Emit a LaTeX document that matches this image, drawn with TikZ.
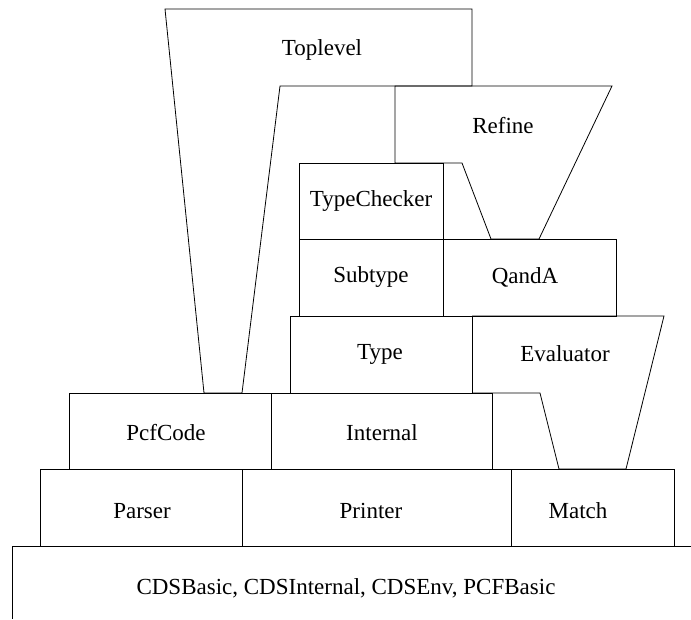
\documentclass[tikz,border=0pt]{standalone}
\usepackage{fontspec}
\setmainfont{Liberation Serif}
\begin{document}
\begin{tikzpicture}[x=1pt,y=-1pt,
  part/.style={draw=black, line width=0.8pt, line join=miter},
  lbl/.style={font=\fontsize{23}{27}\selectfont, inner sep=0pt, text=black}]
\useasboundingbox (0,0) rectangle (691,619);

% layer 0: shared base modules
\draw[part] (691,546) -- (12,546) -- (12,619);
\node[lbl] (base) at (346,588) {CDSBasic, CDSInternal, CDSEnv, PCFBasic};

% layer 1
\draw[part] (40,469) rectangle (242,546);
\draw[part] (242,469) rectangle (511,546);
\draw[part] (511,469) rectangle (674,546);
\node[lbl] (parser) at (142,511) {Parser};
\node[lbl] (printer) at (371,511) {Printer};
\node[lbl] (match) at (578,511) {Match};

% layer 2
\draw[part] (69,393) rectangle (271,469);
\draw[part] (271,393) rectangle (492,469);
\node[lbl] (pcfcode) at (166,433) {PcfCode};
\node[lbl] (internal) at (382,433) {Internal};

% layer 3
\draw[part] (290,316) rectangle (472,393);
\draw[part] (472,316) -- (664,316) -- (626,469) -- (559,469) -- (540,393) -- (472,393);
\node[lbl] (type) at (380,354) {Type};
\node[lbl] (evaluator) at (565,354) {Evaluator};

% layer 4
\draw[part] (299,239) rectangle (443,316);
\draw[part] (443,239) rectangle (616,316);
\node[lbl] (subtype) at (371,277) {Subtype};
\node[lbl] (qanda) at (525,277) {QandA};

% layer 5
\draw[part] (299,163) rectangle (443,239);
\node[lbl] (typechecker) at (371,201) {TypeChecker};

% Refine spans down onto QandA
\draw[part] (395,163) -- (395,86) -- (612,86) -- (539,239) -- (491,239) -- (462,163) -- cycle;
\node[lbl] (refine) at (503,126) {Refine};

% Toplevel reaches down to PcfCode
\draw[part] (165,9) -- (472,9) -- (472,86) -- (280,86) -- (242,393) -- (204,393) -- cycle;
\node[lbl] (toplevel) at (322,50) {Toplevel};
\end{tikzpicture}
\end{document}
